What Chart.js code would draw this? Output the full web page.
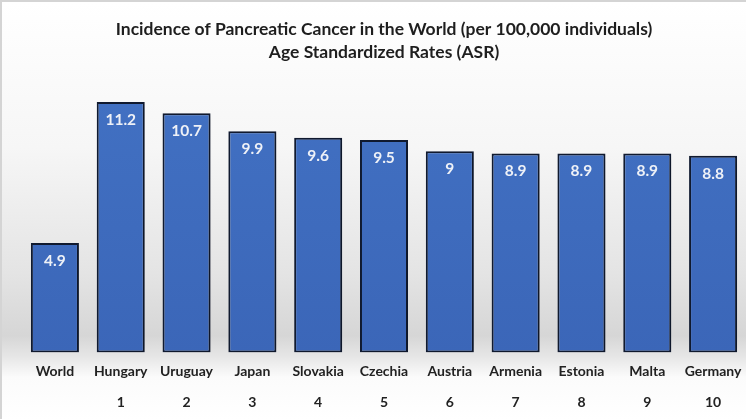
<!DOCTYPE html>
<html>
<head>
<meta charset="utf-8">
<script src="https://cdn.jsdelivr.net/npm/chart.js@4.4.1/dist/chart.umd.min.js"></script>
<style>
    html, body { margin: 0; padding: 0; background: #fff; }
    #wrap {
        position: relative;
        width: 746px;
        height: 419px;
        box-sizing: border-box;
        border-top: 2px solid #d4d4d4;
        border-left: 2px solid #d4d4d4;
        background: linear-gradient(to bottom, #ffffff 0%, #f6f6f6 35%, #e4e4e4 65%, #d6d6d6 80%, #e6e6e6 85%, #fbfbfb 90%, #ffffff 100%);
    }
</style>
</head>
<body>
<div id="wrap"><canvas id="myChart" width="744" height="417"></canvas></div>
<script>
const countries = ["World", "Hungary", "Uruguay", "Japan", "Slovakia", "Czechia", "Austria", "Armenia", "Estonia", "Malta", "Germany"];
const ranks = ["", "1", "2", "3", "4", "5", "6", "7", "8", "9", "10"];
const rates = [4.9, 11.2, 10.7, 9.9, 9.6, 9.5, 9, 8.9, 8.9, 8.9, 8.8];

const labelFont = "Lato, 'Open Sans', sans-serif";

// white value text near the top of each bar
const valueLabels = {
    id: 'valueLabels',
    afterDatasetsDraw(chart) {
        const { ctx } = chart;
        const meta = chart.getDatasetMeta(0);
        ctx.save();
        ctx.fillStyle = '#eef1f7';
        ctx.font = `bold 15.5px ${labelFont}`;
        ctx.textAlign = 'center';
        ctx.textBaseline = 'middle';
        meta.data.forEach((bar, i) => {
            ctx.fillText(String(rates[i]), bar.x, bar.y + 18);
        });
        ctx.restore();
    }
};

// soft shadow cast by the bars
const barShadow = {
    id: 'barShadow',
    beforeDatasetDraw(chart) {
        const { ctx } = chart;
        ctx.save();
        ctx.shadowColor = 'rgba(0,0,0,0.18)';
        ctx.shadowBlur = 7;
        ctx.shadowOffsetX = 4;
        ctx.shadowOffsetY = 2;
    },
    afterDatasetDraw(chart) {
        chart.ctx.restore();
    }
};

const ctx = document.getElementById('myChart').getContext('2d');

const grad = ctx.createLinearGradient(0, 100, 0, 352);
grad.addColorStop(0, '#4170c2');
grad.addColorStop(1, '#3b66b8');

new Chart(ctx, {
    type: 'bar',
    data: {
        labels: countries.map((c, i) => [c, ranks[i]]),
        datasets: [{
            data: rates,
            backgroundColor: grad,
            borderColor: '#101a30',
            borderWidth: 2,
            borderSkipped: false,
            barPercentage: 0.73,
            categoryPercentage: 1
        }]
    },
    options: {
        responsive: false,
        animation: false,
        layout: { padding: { left: 20, right: 0, top: 0, bottom: -3 } },
        plugins: {
            legend: { display: false },
            tooltip: { enabled: false },
            title: {
                display: true,
                text: ['Incidence of Pancreatic Cancer in the World (per 100,000 individuals)', 'Age Standardized Rates (ASR)'],
                color: '#1e1e1e',
                font: { family: labelFont, size: 17.5, weight: 'bold', lineHeight: 1.32 },
                padding: { top: 16, bottom: 20 }
            }
        },
        scales: {
            x: {
                grid: { display: false, drawTicks: false },
                border: { display: false },
                ticks: {
                    color: '#222',
                    padding: 4,
                    maxRotation: 0,
                    autoSkip: false,
                    font: { family: labelFont, size: 14, weight: 'bold', lineHeight: 2.2 }
                }
            },
            y: {
                display: false,
                beginAtZero: true,
                max: 12
            }
        }
    },
    plugins: [barShadow, valueLabels]
});
</script>
</body>
</html>
